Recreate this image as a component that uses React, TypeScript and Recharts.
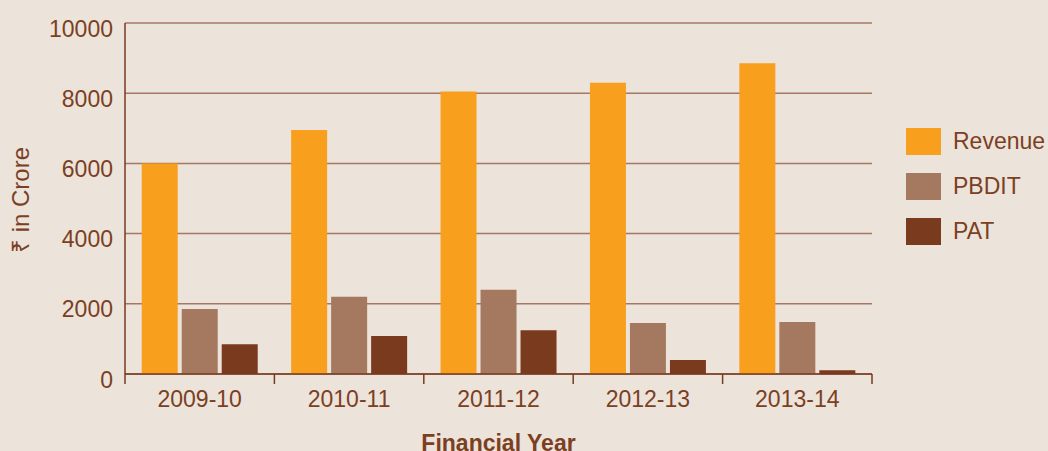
import React from 'react';
import { BarChart, Bar, XAxis, YAxis, CartesianGrid, Legend, Label } from 'recharts';

const years = ['2009-10', '2010-11', '2011-12', '2012-13', '2013-14'];
const revenue = [6000, 6950, 8050, 8300, 8850];
const pbdit = [1850, 2200, 2400, 1450, 1480];
const pat = [850, 1080, 1250, 400, 110];
const yTicks = [0, 2000, 4000, 6000, 8000, 10000];
const seriesNames = ['Revenue', 'PBDIT', 'PAT'];
const seriesColors = ['#F89F1D', '#A57960', '#7A3A1E'];

const data = years.map((y, i) => ({ year: y, Revenue: revenue[i], PBDIT: pbdit[i], PAT: pat[i] }));

const W = 1048;
const H = 451;
const LEFT = 125;
const RIGHT = 176;
const TOP = 23;
const XH = 77;
const FONT = '"Liberation Sans", Arial, Helvetica, sans-serif';
const TEXT = '#7B3F22';
const AXIS = '#7A3A1E';
const BAND = (W - LEFT - RIGHT) / years.length;

const XTick = (props: any) => {
  const { x, y, payload, index } = props;
  return (
    <g>
      <line x1={x - BAND / 2} x2={x - BAND / 2} y1={y} y2={y + 10} stroke={AXIS} strokeWidth={1.5} />
      {index === years.length - 1 && (
        <line x1={x + BAND / 2} x2={x + BAND / 2} y1={y} y2={y + 10} stroke={AXIS} strokeWidth={1.5} />
      )}
      <text x={x} y={y + 33} textAnchor="middle" fill={TEXT} fontSize={23} fontFamily={FONT}>
        {payload.value}
      </text>
    </g>
  );
};

const YTick = (props: any) => {
  const { x, y, payload } = props;
  return (
    <text x={x} y={y + 13.5} textAnchor="end" fill={TEXT} fontSize={23} fontFamily={FONT}>
      {payload.value}
    </text>
  );
};

const LegendContent = () => (
  <div style={{ fontFamily: FONT }}>
    {seriesNames.map((n, i) => (
      <div key={n} style={{ display: 'flex', alignItems: 'center', height: 45 }}>
        <div style={{ width: 35, height: 27, background: seriesColors[i] }} />
        <span style={{ marginLeft: 12, fontSize: 23, color: TEXT, whiteSpace: 'nowrap' }}>{n}</span>
      </div>
    ))}
  </div>
);

export default function App() {
  return (
    <div style={{ position: 'absolute', left: 0, top: 0, width: W, height: H, background: '#ECE3DB', overflow: 'hidden' }}>
      <BarChart
        width={W}
        height={H}
        data={data}
        margin={{ top: TOP, right: RIGHT, bottom: 0, left: 0 }}
        barCategoryGap="11.2%"
        barGap={4}
      >
        <CartesianGrid vertical={false} stroke="#A57865" strokeWidth={1.5} />
        <XAxis
          dataKey="year"
          height={XH}
          axisLine={{ stroke: AXIS, strokeWidth: 1.5 }}
          tickLine={false}
          tickSize={0}
          tickMargin={0}
          tick={<XTick />}
          interval={0}
        >
          <Label
            value="Financial Year"
            position="insideBottom"
            offset={0}
            fill={TEXT}
            fontSize={23}
            fontWeight="bold"
            fontFamily={FONT}
          />
        </XAxis>
        <YAxis
          width={LEFT}
          domain={[0, 10000]}
          ticks={yTicks}
          axisLine={{ stroke: AXIS, strokeWidth: 1.5 }}
          tickLine={false}
          tickSize={0}
          tickMargin={12}
          tick={<YTick />}
          interval={0}
        >
          <Label
            content={() => {
              const cy = TOP + 177;
              return (
                <text
                  x={29}
                  y={cy}
                  transform={`rotate(-90, 29, ${cy})`}
                  textAnchor="middle"
                  fill={TEXT}
                  fontSize={24}
                  fontFamily={FONT}
                >
                  ₹ in Crore
                </text>
              );
            }}
          />
        </YAxis>
        <Legend
          layout="vertical"
          align="center"
          verticalAlign="middle"
          wrapperStyle={{ left: 906, top: 119, width: 'auto', height: 'auto' }}
          content={<LegendContent />}
        />
        {seriesNames.map((n, i) => (
          <Bar key={n} dataKey={n} fill={seriesColors[i]} isAnimationActive={false} />
        ))}
      </BarChart>
    </div>
  );
}
